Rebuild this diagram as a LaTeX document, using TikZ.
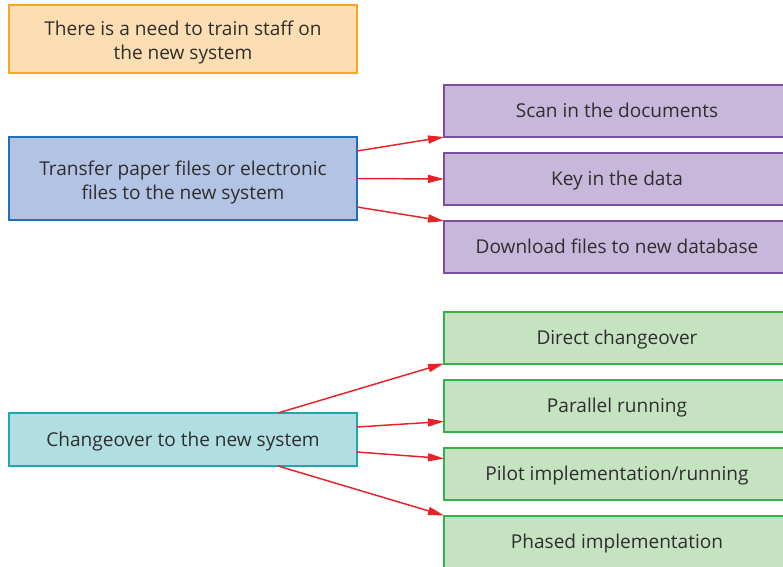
\documentclass[tikz,border=0pt]{standalone}
\usepackage{fontspec}
\setmainfont{Open Sans}
\usetikzlibrary{calc,arrows.meta}
\definecolor{ofill}{HTML}{FDDEB3}\definecolor{oline}{HTML}{F7A823}
\definecolor{bfill}{HTML}{B3C3E4}\definecolor{bline}{HTML}{1E6EB8}
\definecolor{pfill}{HTML}{C7B7DB}\definecolor{pline}{HTML}{7D4E9F}
\definecolor{tfill}{HTML}{B1DFE1}\definecolor{tline}{HTML}{1BA9AE}
\definecolor{gfill}{HTML}{C6E3C1}\definecolor{gline}{HTML}{33B24C}
\definecolor{arr}{HTML}{E82127}
\definecolor{txt}{HTML}{2E2E2E}
\newcommand{\toppad}{\rule{0pt}{16.5pt}}
\begin{document}
\begin{tikzpicture}[x=0.75pt,y=-0.75pt,
  box/.style={rectangle,draw,line width=1.5pt,inner sep=0pt,outer sep=0pt,
    text=txt,font=\fontsize{14.3}{18}\selectfont,align=center,
    execute at begin node={\rule{0pt}{13.5pt}},
    execute at end node={\rule[-3.5pt]{0pt}{3.5pt}}},
  lbox/.style={box,minimum width=261pt},
  rbox/.style={box,minimum width=259.5pt,minimum height=39pt},
  con/.style={draw=arr,line width=1.1pt,-{Triangle[length=12pt,width=6pt]}}]
\useasboundingbox (0,0) rectangle (783,567);
\clip (0,0) rectangle (783,567);
\node[lbox,fill=ofill,draw=oline,minimum height=51pt] (train) at (183,39) {\toppad There is a need to train staff on\\the new system};
\node[lbox,fill=bfill,draw=bline,minimum height=62.25pt] (transfer) at (183,178.5) {\toppad Transfer paper files or electronic\\files to the new system};
\node[rbox,fill=pfill,draw=pline] (scan) at (617,111) {Scan in the documents};
\node[rbox,fill=pfill,draw=pline] (key) at (617,179) {Key in the data};
\node[rbox,fill=pfill,draw=pline] (down) at (617,247) {Download files to new database};
\node[lbox,fill=tfill,draw=tline,minimum height=39.75pt] (change) at (183,439.5) {Changeover to the new system};
\node[rbox,fill=gfill,draw=gline] (direct) at (617,337.5) {Direct changeover};
\node[rbox,fill=gfill,draw=gline] (parallel) at (617,405.5) {Parallel running};
\node[rbox,fill=gfill,draw=gline] (pilot) at (617,473.5) {Pilot implementation/running};
\node[rbox,fill=gfill,draw=gline] (phased) at (617,541.5) {Phased implementation};
\draw[con] ($(transfer.north east)+(0,14)$) -- (scan.south west);
\draw[con] (transfer.east) -- (key.west);
\draw[con] ($(transfer.south east)+(0,-13)$) -- (down.north west);
\draw[con] ($(change.north west)+(269,0)$) -- (direct.south west);
\draw[con] ($(change.north east)+(0,14)$) -- ($(parallel.north west)+(0,42)$);
\draw[con] ($(change.south east)+(0,-14)$) -- ($(pilot.north west)+(0,11)$);
\draw[con] ($(change.south west)+(269,0)$) -- (phased.north west);
\end{tikzpicture}
\end{document}
